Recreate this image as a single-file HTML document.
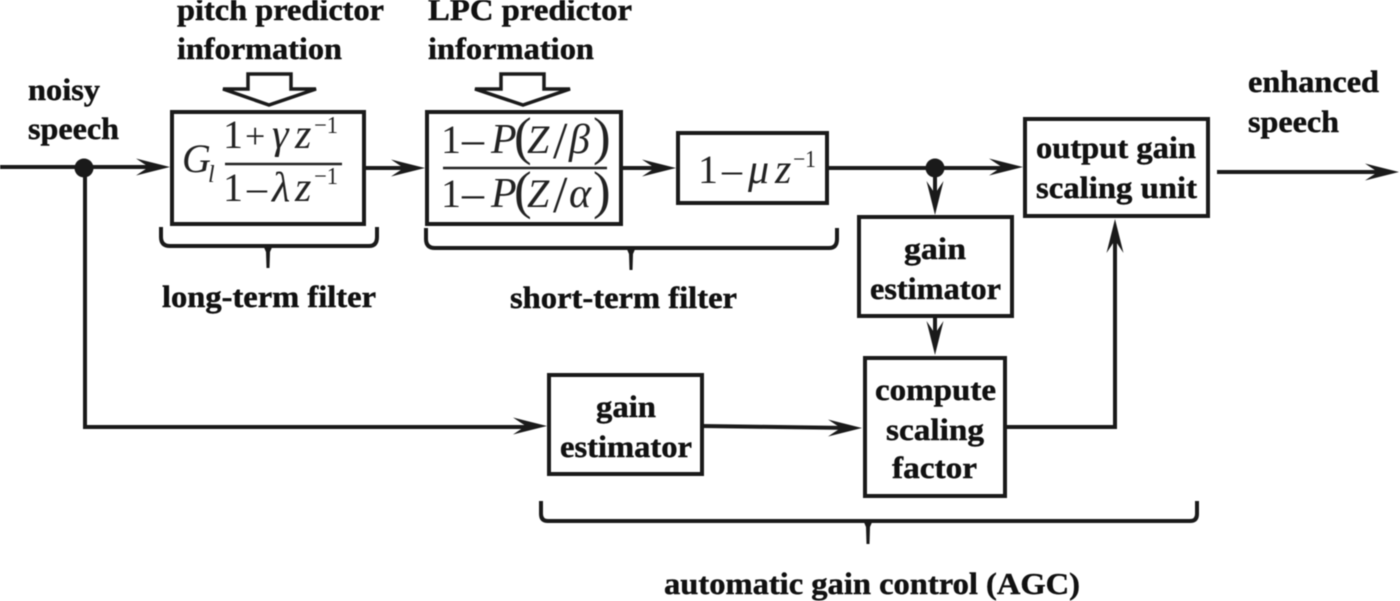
<!DOCTYPE html>
<html><head><meta charset="utf-8"><style>
html,body{margin:0;padding:0;background:#fff}
svg{display:block;filter:blur(0.6px)}
.t{font-family:"Liberation Serif",serif;font-weight:bold;font-size:31px;fill:#111;stroke:#111;stroke-width:.45px}
.m{font-family:"Liberation Serif",serif;font-size:40px;fill:#222}
.i{font-style:italic}
.s{font-size:24px}
.b{fill:none;stroke:#1a1a1a;stroke-width:4}
.l{fill:none;stroke:#1a1a1a;stroke-width:4}
.f{fill:none;stroke:#1a1a1a;stroke-width:3.5}
.a{fill:#1a1a1a}
</style></head><body>
<svg width="1400" height="601" viewBox="0 0 1400 601" xmlns="http://www.w3.org/2000/svg">
<defs>
<path id="ar" d="M0 0 L-34 -8.5 Q-26 -3 -21 0 Q-26 3 -34 8.5Z"/>
</defs>
<!-- boxes -->
<rect class="b" x="172" y="112" width="192" height="112"/>
<rect class="b" x="427" y="112" width="194" height="112"/>
<rect class="b" x="678" y="133" width="149" height="70"/>
<rect class="b" x="1025" y="119" width="183" height="97"/>
<rect class="b" x="859" y="217" width="153" height="99"/>
<rect class="b" x="865" y="358" width="140" height="138"/>
<rect class="b" x="549" y="375" width="153" height="99"/>
<!-- connectors -->
<path class="l" d="M0 167H160"/>
<use href="#ar" class="a" x="170" y="167"/>
<circle class="a" cx="84" cy="168" r="9.5"/>
<path class="l" d="M85 168V427H535"/>
<use href="#ar" class="a" x="547" y="426"/>
<path class="l" d="M364 168H412"/>
<use href="#ar" class="a" x="425" y="168"/>
<path class="l" d="M621 168H664"/>
<use href="#ar" class="a" x="676" y="168"/>
<path class="l" d="M827 168H1010"/>
<use href="#ar" class="a" x="1023" y="167"/>
<circle class="a" cx="935" cy="168" r="9.5"/>
<path class="l" d="M935 170V202"/>
<use href="#ar" class="a" transform="translate(935 215) rotate(90)"/>
<path class="l" d="M935 316V342"/>
<use href="#ar" class="a" transform="translate(935 355) rotate(90)"/>
<path class="l" d="M702 426L850 428"/>
<use href="#ar" class="a" x="862" y="428"/>
<path class="l" d="M1005 427H1115V232"/>
<use href="#ar" class="a" transform="translate(1115 219) rotate(-90)"/>
<path class="l" d="M1217 172H1385"/>
<use href="#ar" class="a" x="1399" y="172"/>
<!-- hollow arrows -->
<path class="f" d="M248 74H291V89H316L269 105L223 89H248Z"/>
<path class="f" d="M501 74H544V89H570L523 105L475 89H501Z"/>
<!-- braces -->
<path class="l" d="M161 227V237Q161 246 170 246H369Q377 246 377 237V227"/>
<path class="a" d="M263 245H273L270 252L269.5 268H266.5L266 252Z"/>
<path class="l" d="M426 228V239Q426 248 435 248H829Q837 248 837 239V228"/>
<path class="a" d="M626 247H636L633 254L632.5 270H629.5L629 254Z"/>
<path class="l" d="M541 501V514Q541 521 548 521H1190Q1197 521 1197 514V501"/>
<path class="a" d="M863 520H873L870 527L869.5 544H866.5L866 527Z"/>
<!-- labels -->
<text class="t" x="177" y="20" textLength="207" lengthAdjust="spacingAndGlyphs">pitch predictor</text>
<text class="t" x="177" y="59" textLength="165" lengthAdjust="spacingAndGlyphs">information</text>
<text class="t" x="428" y="20" textLength="204" lengthAdjust="spacingAndGlyphs">LPC predictor</text>
<text class="t" x="428" y="59" textLength="166" lengthAdjust="spacingAndGlyphs">information</text>
<text class="t" x="28" y="100" textLength="72" lengthAdjust="spacingAndGlyphs">noisy</text>
<text class="t" x="28" y="139" textLength="91" lengthAdjust="spacingAndGlyphs">speech</text>
<text class="t" x="1248" y="92" textLength="131" lengthAdjust="spacingAndGlyphs">enhanced</text>
<text class="t" x="1248" y="132" textLength="91" lengthAdjust="spacingAndGlyphs">speech</text>
<text class="t" x="1036" y="158" textLength="160" lengthAdjust="spacingAndGlyphs">output gain</text>
<text class="t" x="1036" y="198" textLength="161" lengthAdjust="spacingAndGlyphs">scaling unit</text>
<text class="t" x="904" y="259" textLength="62" lengthAdjust="spacingAndGlyphs">gain</text>
<text class="t" x="870" y="299" textLength="131" lengthAdjust="spacingAndGlyphs">estimator</text>
<text class="t" x="596" y="417" textLength="60" lengthAdjust="spacingAndGlyphs">gain</text>
<text class="t" x="560" y="457" textLength="132" lengthAdjust="spacingAndGlyphs">estimator</text>
<text class="t" x="875" y="400" textLength="121" lengthAdjust="spacingAndGlyphs">compute</text>
<text class="t" x="886" y="440" textLength="98" lengthAdjust="spacingAndGlyphs">scaling</text>
<text class="t" x="892" y="478" textLength="85" lengthAdjust="spacingAndGlyphs">factor</text>
<text class="t" x="162" y="307" textLength="214" lengthAdjust="spacingAndGlyphs">long-term filter</text>
<text class="t" x="510" y="308" textLength="227" lengthAdjust="spacingAndGlyphs">short-term filter</text>
<text class="t" x="664" y="594" textLength="416" lengthAdjust="spacingAndGlyphs">automatic gain control (AGC)</text>
<!-- formula 1 -->
<text class="m i" x="182" y="172" style="font-size:40px">G</text>
<text class="m i s" x="208" y="182">l</text>
<text class="m" x="223" y="148">1</text>
<text class="m" x="245" y="148" style="font-size:36px">+</text>
<text class="m i" x="272" y="148" style="font-size:42px">γ</text>
<text class="m i" x="295" y="148" style="font-size:42px">z</text>
<text class="m s" x="314" y="133" textLength="24" lengthAdjust="spacingAndGlyphs">−1</text>
<path d="M225 164H342" stroke="#222" stroke-width="2.5"/>
<text class="m" x="223" y="201">1</text>
<text class="m" x="247" y="201" style="font-size:40px">–</text>
<text class="m i" x="272" y="201" style="font-size:42px">λ</text>
<text class="m i" x="295" y="201" style="font-size:42px">z</text>
<text class="m s" x="314" y="184" textLength="24" lengthAdjust="spacingAndGlyphs">−1</text>
<!-- formula 2 -->
<text class="m" x="441" y="153">1</text>
<text class="m" x="462" y="154" style="font-size:44px">–</text>
<text class="m i" x="491" y="153" style="font-size:42px">P</text>
<text class="m" x="514" y="154" style="font-size:53px">(</text>
<text class="m i" x="527" y="153" style="font-size:40px">Z</text>
<text class="m" x="553" y="158" style="font-size:52px">/</text>
<text class="m i" x="569" y="153" style="font-size:42px">β</text>
<text class="m" x="593" y="154" style="font-size:53px">)</text>
<path d="M443 168H607" stroke="#222" stroke-width="2.5"/>
<text class="m" x="441" y="207">1</text>
<text class="m" x="462" y="208" style="font-size:44px">–</text>
<text class="m i" x="491" y="207" style="font-size:42px">P</text>
<text class="m" x="514" y="208" style="font-size:53px">(</text>
<text class="m i" x="527" y="207" style="font-size:40px">Z</text>
<text class="m" x="553" y="212" style="font-size:52px">/</text>
<text class="m i" x="569" y="207" style="font-size:42px">α</text>
<text class="m" x="593" y="208" style="font-size:53px">)</text>
<!-- formula 3 -->
<text class="m" x="698" y="183" style="font-size:40px">1</text>
<text class="m" x="722" y="183" style="font-size:40px">–</text>
<text class="m i" x="748" y="183" style="font-size:42px">μ</text>
<text class="m i" x="775" y="183" style="font-size:42px">z</text>
<text class="m s" x="793" y="167" textLength="23" lengthAdjust="spacingAndGlyphs">−1</text>
</svg>
</body></html>
